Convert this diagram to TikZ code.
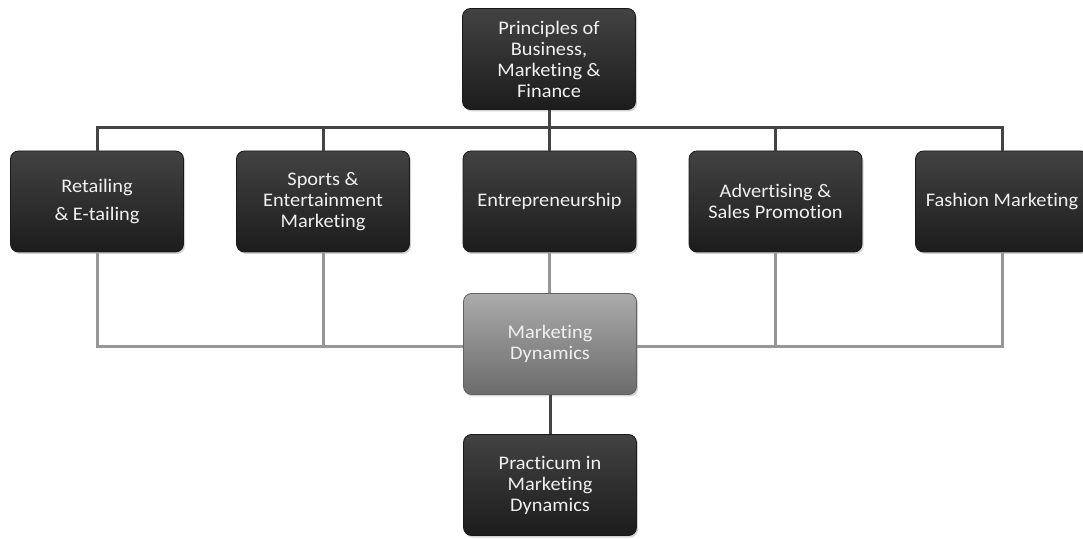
\documentclass[tikz,border=0pt]{standalone}
\usepackage{fontspec}
\setmainfont[Ligatures=NoCommon, FakeStretch=1.06]{Carlito}
\usetikzlibrary{shadows,calc}
\definecolor{txt}{HTML}{F0F0F0}
\definecolor{darkline}{HTML}{444444}
\definecolor{grayline}{HTML}{969696}
\tikzset{
  box/.style={rounded corners=8pt, minimum width=173pt, minimum height=101pt,
    top color=black!74, bottom color=black!89, draw=black!90, line width=0.8pt,
    text=txt, align=center, inner sep=2pt,
    font=\fontsize{19.2}{21}\selectfont,
    drop shadow={opacity=0.35, shadow xshift=1.5pt, shadow yshift=-2pt}},
  lightbox/.style={box, top color=black!33, bottom color=black!58, draw=black!62},
  dark/.style={draw=darkline, line width=3pt},
  light/.style={draw=grayline, line width=3pt},
}
\begin{document}
\begin{tikzpicture}[x=1pt,y=1pt]
\useasboundingbox (0,0) rectangle (1083,538);
\node[box] (top) at (549,479) {Principles of\\Business,\\Marketing \&\\Finance};
\node[box] (ret) at (97,336.5) {Retailing\\[7pt]\& E-tailing};
\node[box] (spo) at (323,336.5) {Sports \&\\Entertainment\\Marketing};
\node[box] (ent) at (549.5,336.5) {Entrepreneurship};
\node[box] (adv) at (775.5,336.5) {Advertising \&\\Sales Promotion};
\node[box] (fas) at (1002,336.5) {Fashion Marketing};
\node[lightbox] (md) at (550,194) {Marketing\\Dynamics};
\node[box] (pra) at (550,53) {Practicum in\\Marketing\\Dynamics};
\coordinate (hub) at (549,410);
\coordinate (lo) at (550,191);
% dark connectors
\draw[dark] (top.south) -- (hub);
\draw[dark] (ret.north) |- (hub) -| (fas.north);
\draw[dark] (spo.north) -- (spo.north |- hub);
\draw[dark] (ent.north) -- (ent.north |- hub);
\draw[dark] (adv.north) -- (adv.north |- hub);
\draw[dark] (md.south) -- (pra.north);
% gray connectors
\draw[light] (ret.south) |- (md.west |- lo);
\draw[light] (spo.south) -- (spo.south |- lo);
\draw[light] (fas.south) |- (md.east |- lo);
\draw[light] (adv.south) -- (adv.south |- lo);
\draw[light] (ent.south) -- (ent.south |- md.north);
\end{tikzpicture}
\end{document}
